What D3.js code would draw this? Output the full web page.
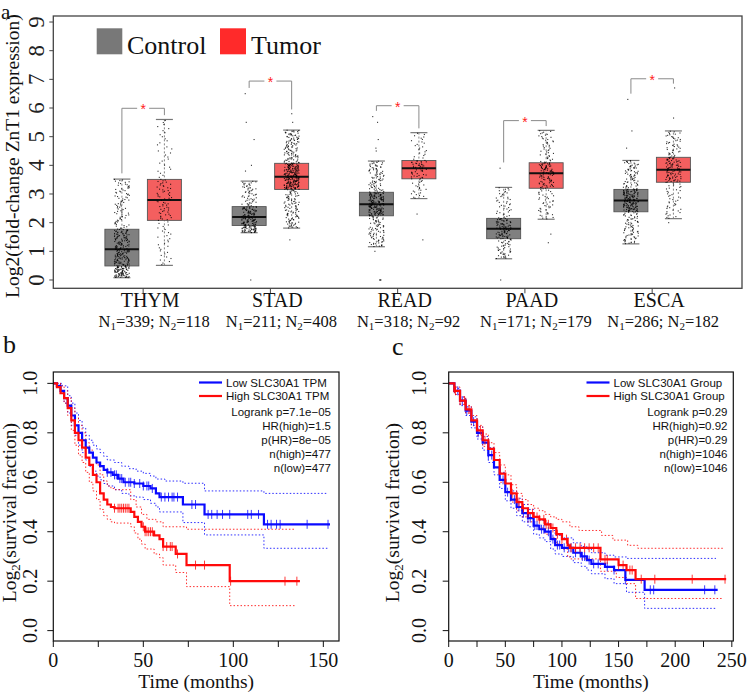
<!DOCTYPE html>
<html><head><meta charset="utf-8">
<script src="https://cdn.jsdelivr.net/npm/d3@7/dist/d3.min.js"></script>
<style>body{margin:0;background:#fff}svg{display:block}</style>
</head><body>
<svg id="fig" width="748" height="694"></svg>
<script>
// ---------------- DATA ----------------
const cancers = ["THYM","STAD","READ","PAAD","ESCA"];
const groups = ["Control","Tumor"];
const nControl = [339,211,318,171,286];
const nTumor = [118,408,92,179,182];
// [lower whisker, Q1, median, Q3, upper whisker]
const controlStats = [[0.08,0.49,1.07,1.77,3.52],[1.65,1.90,2.20,2.56,3.45],[1.16,2.24,2.64,3.06,4.15],[0.74,1.44,1.79,2.15,3.23],[1.26,2.38,2.77,3.16,4.17]];
const tumorStats   = [[0.51,2.08,2.79,3.51,5.60],[1.81,3.16,3.60,4.07,5.23],[2.84,3.53,3.90,4.17,5.14],[2.12,3.20,3.72,4.09,5.22],[2.14,3.41,3.85,4.28,5.20]];
const controlOutliers = [[],[6.5,5.5,4.9,4.0,3.8,0.0],[5.7,5.5,4.9,4.6,4.5,1.0,0.0,0.0,0.0],[3.9,0.0],[6.3,5.2,4.6]];
const tumorOutliers   = [[],[5.8,5.5,1.4],[2.3,1.4],[1.6,1.3],[6.7,5.65,2.0]];
const bracketLevel = [5.99,6.94,6.08,5.56,7.02];
const yTicksA = [0,1,2,3,4,5,6,7,8,9];

// Kaplan-Meier panel b  [time, survival] steps
const bLow  = [[0,1],[2,0.99],[4,0.97],[6,0.94],[8,0.91],[10,0.87],[12,0.83],[14,0.8],[16,0.77],[18,0.74],[20,0.72],[22,0.7],[24,0.68],[26,0.665],[28,0.65],[30,0.64],[33,0.63],[36,0.615],[39,0.6],[45,0.595],[50,0.585],[54,0.575],[57,0.555],[59,0.54],[72,0.51],[84,0.47],[117,0.43],[153.7,0.43]];
const bHigh = [[0,1],[2,0.985],[4,0.96],[6,0.94],[8,0.9],[10,0.85],[12,0.8],[14,0.77],[16,0.74],[18,0.7],[20,0.67],[22,0.63],[24,0.6],[26,0.555],[28,0.53],[30,0.51],[32,0.5],[34,0.495],[43,0.48],[45,0.46],[47,0.44],[49,0.42],[51,0.4],[56,0.385],[59,0.37],[61,0.34],[68,0.31],[74,0.265],[98,0.2],[137,0.2]];
const bLowUpper = [[0,1],[5,0.99],[8,0.95],[10,0.92],[12,0.88],[14,0.85],[16,0.82],[18,0.79],[20,0.77],[22,0.75],[24,0.735],[26,0.72],[28,0.705],[30,0.69],[34,0.68],[38,0.665],[42,0.655],[46,0.645],[50,0.636],[54,0.625],[57,0.613],[62,0.605],[72,0.596],[84,0.565],[117,0.555],[152,0.555]];
const bLowLower = [[0,1],[4,0.96],[6,0.92],[8,0.88],[10,0.83],[12,0.79],[14,0.75],[16,0.72],[18,0.69],[20,0.665],[22,0.645],[24,0.625],[26,0.61],[28,0.595],[30,0.585],[34,0.57],[38,0.555],[42,0.545],[46,0.54],[50,0.53],[54,0.515],[57,0.5],[59,0.48],[72,0.437],[84,0.387],[117,0.333],[153,0.333]];
const bHighUpper = [[0,1],[4,0.99],[6,0.97],[8,0.94],[10,0.9],[12,0.86],[14,0.83],[16,0.8],[18,0.76],[20,0.73],[22,0.7],[24,0.67],[26,0.63],[28,0.605],[30,0.585],[32,0.575],[34,0.57],[43,0.53],[46,0.5],[49,0.47],[52,0.45],[57,0.44],[61,0.42],[74,0.41],[134,0.41]];
const bHighLower = [[0,1],[4,0.97],[6,0.92],[8,0.87],[10,0.81],[12,0.75],[14,0.71],[16,0.68],[18,0.64],[20,0.6],[22,0.565],[24,0.53],[26,0.49],[28,0.465],[30,0.45],[32,0.44],[34,0.435],[43,0.42],[45,0.395],[47,0.37],[49,0.35],[51,0.33],[56,0.31],[59,0.295],[61,0.265],[68,0.235],[74,0.178],[98,0.101],[135,0.101]];
const bLowCensor  = [30,32,34,35,37,38,40,42,43,45,48,50,52,53,55,60,62,64,66,67,69,77,79,86,88,91,94,98,108,110,114,119,121,124,126,141,152.6];
const bHighCensor = [34,36,37,38,39,40,41,42,50,51,52,53,54,55,61,63,65,66,69,79,84,98.5,128.7,135.3];

// Kaplan-Meier panel c
const cLow  = [[0,1],[5,0.97],[10,0.93],[15,0.89],[20,0.845],[25,0.8],[30,0.76],[35,0.71],[40,0.66],[45,0.61],[50,0.56],[55,0.53],[60,0.5],[65,0.475],[70,0.455],[75,0.425],[80,0.41],[85,0.4],[90,0.37],[94,0.346],[100,0.335],[110,0.315],[117,0.3],[122,0.285],[126,0.27],[138,0.258],[146,0.245],[156,0.205],[173,0.165],[237.5,0.165]];
const cHigh = [[0,1],[5,0.97],[10,0.93],[15,0.895],[20,0.85],[25,0.81],[30,0.77],[35,0.735],[40,0.69],[45,0.635],[50,0.595],[55,0.555],[60,0.52],[65,0.495],[70,0.475],[75,0.46],[80,0.45],[85,0.43],[90,0.415],[95,0.39],[100,0.37],[105,0.345],[107,0.335],[134,0.288],[150,0.265],[157,0.245],[165,0.208],[245,0.208]];
const cLowUpper  = [[0,1],[5,0.98],[10,0.945],[15,0.905],[20,0.865],[25,0.825],[30,0.785],[35,0.74],[40,0.69],[45,0.64],[50,0.595],[55,0.565],[60,0.535],[65,0.51],[70,0.49],[75,0.46],[80,0.445],[85,0.435],[90,0.405],[94,0.385],[100,0.375],[110,0.355],[117,0.34],[122,0.33],[126,0.315],[138,0.305],[146,0.298],[157,0.292],[236,0.292]];
const cLowLower  = [[0,1],[5,0.955],[10,0.91],[15,0.87],[20,0.82],[25,0.775],[30,0.73],[35,0.68],[40,0.63],[45,0.575],[50,0.525],[55,0.495],[60,0.465],[65,0.44],[70,0.42],[75,0.39],[80,0.375],[85,0.36],[90,0.33],[94,0.31],[100,0.3],[110,0.275],[117,0.26],[122,0.245],[126,0.23],[138,0.21],[146,0.19],[157,0.155],[173,0.09],[236,0.09]];
const cHighUpper = [[0,1],[5,0.985],[10,0.945],[15,0.91],[20,0.87],[25,0.83],[30,0.795],[35,0.76],[40,0.72],[45,0.67],[50,0.63],[55,0.59],[60,0.555],[65,0.53],[70,0.51],[75,0.495],[80,0.485],[85,0.47],[90,0.46],[95,0.45],[100,0.44],[107,0.42],[115,0.405],[135,0.385],[145,0.366],[158,0.345],[167,0.333],[242,0.333]];
const cHighLower = [[0,1],[5,0.955],[10,0.915],[15,0.88],[20,0.83],[25,0.79],[30,0.745],[35,0.71],[40,0.66],[45,0.6],[50,0.56],[55,0.52],[60,0.485],[65,0.46],[70,0.44],[75,0.425],[80,0.415],[85,0.39],[90,0.375],[95,0.35],[100,0.33],[105,0.3],[107,0.29],[134,0.24],[148,0.215],[157,0.19],[165,0.13],[242,0.13]];
const cLowCensor  = [8,12,16,22,26,35,38,48,52,58,62,66,70,72,76,78,82,84,88,92,96,98,102,106,108,112,116,118,120,124,128,132,140,146,156,178,181,226,235];
const cHighCensor = [6,10,14,18,28,32,56,62,66,70,74,78,80,84,86,88,92,96,100,104,108,112,116,120,124,128,132,138,140,150,154,160,162,170,182,215,244];

const legendB = ["Low SLC30A1 TPM","High SLC30A1 TPM"];
const statsB = ["Logrank p=7.1e\u221205","HR(high)=1.5","p(HR)=8e\u221205","n(high)=477","n(low)=477"];
const legendC = ["Low SLC30A1 Group","High SLC30A1 Group"];
const statsC = ["Logrank p=0.29","HR(high)=0.92","p(HR)=0.29","n(high)=1046","n(low)=1046"];
const kmYTicks = [0,0.2,0.4,0.6,0.8,1.0];

// ---------------- DRAW ----------------
const svg = d3.select("#fig");
const SERIF = "'Liberation Serif','Times New Roman',serif";
const SANS = "'Liberation Sans',Arial,Helvetica,sans-serif";
const BLUE = "#0a0aff", RED = "#ff0a0a";

// ---- panel a ----
const A = {l:53.3, r:742, t:16, b:288.3};
const xa = d3.scalePoint().domain(cancers).range([A.l, A.r]).padding(0.706);
const xg = d3.scaleBand().domain(groups).range([-42.5, 42.5]).paddingInner(0.2).paddingOuter(0.1);
const ya = d3.scaleLinear().domain([-0.29, 9.21]).range([A.b, A.t]);
const bw = xg.bandwidth();

function quant(s, p){ const k = Math.min(3, Math.floor(p*4)); const f = p*4-k; return s[k]+(s[k+1]-s[k])*f; }
// deterministic horizontal jitter (display only)
function jit(i){ const v = Math.sin(i*78.233 + 12.9898)*43758.5453; return v - Math.floor(v); }

const ga = svg.append("g");
cancers.forEach((c, ci) => {
  [[controlStats, controlOutliers, nControl, "#808080", "Control"], [tumorStats, tumorOutliers, nTumor, "#f45f5f", "Tumor"]].forEach(([st, out, ns, fill, g], gi) => {
    const s = st[ci];
    const cx = xa(c) + xg(g) + bw/2;
    ga.append("line").attr("x1",cx).attr("x2",cx).attr("y1",ya(s[0])).attr("y2",ya(s[4])).attr("stroke","#666").attr("stroke-width",0.8).attr("stroke-dasharray","2,2");
    [s[0], s[4]].forEach(v => ga.append("line").attr("x1",cx-8.5).attr("x2",cx+8.5).attr("y1",ya(v)).attr("y2",ya(v)).attr("stroke","#777").attr("stroke-width",1.2));
    ga.append("rect").attr("x",cx-bw/2).attr("width",bw).attr("y",ya(s[3])).attr("height",ya(s[1])-ya(s[3])).attr("fill",fill).attr("stroke","#555").attr("stroke-width",0.9);
    ga.append("line").attr("x1",cx-bw/2).attr("x2",cx+bw/2).attr("y1",ya(s[2])).attr("y2",ya(s[2])).attr("stroke","#111").attr("stroke-width",2);
    const m = ns[ci] - out[ci].length;
    const pts = [];
    for(let i=0;i<m;i++){ pts.push([ (jit(i + 1000*ci + 500*gi)-0.5)*15, quant(s,(i+0.5)/m) ]); }
    out[ci].forEach((v,j) => pts.push([ (jit(j + 77*ci + 31*gi + 9000)-0.5)*10, v ]));
    ga.append("g").selectAll("rect").data(pts).join("rect")
      .attr("x",d=>cx+d[0]-0.55).attr("y",d=>ya(d[1])-0.55).attr("width",1.1).attr("height",1.1).attr("fill","#000").attr("opacity",0.8);
  });
  const x1 = xa(c)+xg("Control")+bw/2, x2 = xa(c)+xg("Tumor")+bw/2;
  const yb = ya(bracketLevel[ci]);
  const cmax = d3.max([controlStats[ci][4], ...controlOutliers[ci]]);
  const tmax = d3.max([tumorStats[ci][4], ...tumorOutliers[ci]]);
  const mid = (x1+x2)/2;
  const br = ga.append("g").attr("stroke","#8a8a8a").attr("stroke-width",1).attr("fill","none");
  br.append("path").attr("d",`M${x1},${ya(cmax+0.2)}V${yb}H${mid-6}`);
  br.append("path").attr("d",`M${mid+6},${yb}H${x2}V${ya(tmax+0.15)}`);
  ga.append("text").attr("x",mid).attr("y",yb+6).attr("text-anchor","middle").attr("fill","#ff2020").attr("font-family",SANS).attr("font-size",14).text("*");
});
ga.append("rect").attr("x",A.l).attr("y",A.t).attr("width",A.r-A.l).attr("height",A.b-A.t).attr("fill","none").attr("stroke","#444").attr("stroke-width",1.3);
yTicksA.forEach(v => {
  ga.append("line").attr("x1",A.l-4).attr("x2",A.l).attr("y1",ya(v)).attr("y2",ya(v)).attr("stroke","#444");
  ga.append("text").attr("transform",`translate(${A.l-9},${ya(v)}) rotate(-90)`).attr("text-anchor","middle").attr("font-family",SERIF).attr("font-size",23).attr("fill","#222").text(v);
});
cancers.forEach((c, ci) => {
  ga.append("line").attr("x1",xa(c)).attr("x2",xa(c)).attr("y1",A.b).attr("y2",A.b+5).attr("stroke","#444");
  ga.append("text").attr("x",xa(c)+7).attr("y",307).attr("text-anchor","middle").attr("font-family",SERIF).attr("font-size",20).attr("fill","#111").text(c);
  const t = ga.append("text").attr("x",xa(c)+11).attr("y",327).attr("text-anchor","middle").attr("font-family",SERIF).attr("font-size",16.5).attr("fill","#111");
  t.append("tspan").text("N");
  t.append("tspan").attr("font-size",11).attr("dy",3).text("1");
  t.append("tspan").attr("dy",-3).text("=" + nControl[ci] + "; N");
  t.append("tspan").attr("font-size",11).attr("dy",3).text("2");
  t.append("tspan").attr("dy",-3).text("=" + nTumor[ci]);
});
ga.append("text").attr("transform",`translate(19,${(A.t+A.b)/2+4}) rotate(-90)`).attr("text-anchor","middle").attr("font-family",SERIF).attr("font-size",19.5).attr("fill","#111").text("Log2(fold-change ZnT1 expression)");
ga.append("rect").attr("x",96.7).attr("y",28.3).attr("width",25.6).attr("height",26).attr("fill","#787878");
ga.append("text").attr("x",127).attr("y",54).attr("font-family",SERIF).attr("font-size",26).attr("fill","#111").text(groups[0]);
ga.append("rect").attr("x",220).attr("y",28.3).attr("width",26).attr("height",26).attr("fill","#ff2a2a");
ga.append("text").attr("x",251).attr("y",54).attr("font-family",SERIF).attr("font-size",26).attr("fill","#111").text(groups[1]);
svg.append("text").attr("x",1).attr("y",19).attr("font-family",SERIF).attr("font-size",21).attr("fill","#111").text("a");

// ---- KM panels ----
function kmPanel(P){
  const g = svg.append("g");
  const x = d3.scaleLinear().domain([0, P.xmax]).range([P.l, P.r]);
  const y = d3.scaleLinear().domain([-0.042, 1.046]).range([P.b, P.t]);
  const line = d3.line().x(d=>x(d[0])).y(d=>y(d[1])).curve(d3.curveStepAfter);
  const stepAt = (arr,t) => { let v=arr[0][1]; for(const d of arr){ if(d[0]<=t) v=d[1]; } return v; };
  P.ci.forEach(([arr,col]) => g.append("path").attr("d",line(arr)).attr("fill","none").attr("stroke",col).attr("stroke-width",1).attr("stroke-dasharray","1.5,2").attr("opacity",0.85));
  P.curves.forEach(([arr,col,cens]) => {
    g.append("path").attr("d",line(arr)).attr("fill","none").attr("stroke",col).attr("stroke-width",2.2);
    g.append("g").selectAll("line").data(cens).join("line")
      .attr("x1",d=>x(d)).attr("x2",d=>x(d)).attr("y1",d=>y(stepAt(arr,d))-4.5).attr("y2",d=>y(stepAt(arr,d))+4.5)
      .attr("stroke",col).attr("stroke-width",1).attr("opacity",0.8);
  });
  g.append("rect").attr("x",P.l).attr("y",P.t).attr("width",P.r-P.l).attr("height",P.b-P.t).attr("fill","none").attr("stroke","#111").attr("stroke-width",1.2);
  P.xticks.forEach(v => {
    g.append("line").attr("x1",x(v)).attr("x2",x(v)).attr("y1",P.b).attr("y2",P.b+6).attr("stroke","#111");
    if (v % 50 === 0) g.append("text").attr("x",x(v)).attr("y",667).attr("text-anchor","middle").attr("font-family",SERIF).attr("font-size",20).attr("fill","#111").text(v);
  });
  kmYTicks.forEach(v => {
    g.append("line").attr("x1",P.l-6).attr("x2",P.l).attr("y1",y(v)).attr("y2",y(v)).attr("stroke","#111");
    g.append("text").attr("transform",`translate(${P.ylx},${y(v)}) rotate(-90)`).attr("text-anchor","middle").attr("font-family",SERIF).attr("font-size",20).attr("fill","#111").text(d3.format(".1f")(v));
  });
  g.append("text").attr("x",(P.l+P.r)/2).attr("y",688).attr("text-anchor","middle").attr("font-family",SERIF).attr("font-size",19.5).attr("fill","#111").text("Time (months)");
  const yl = g.append("text").attr("transform",`translate(${P.ytx},${(P.t+P.b)/2+6}) rotate(-90)`).attr("text-anchor","middle").attr("font-family",SERIF).attr("font-size",19.5).attr("fill","#111");
  yl.append("tspan").text("Log");
  yl.append("tspan").attr("font-size",13).attr("dy",4).text("2");
  yl.append("tspan").attr("dy",-4).text("(survival fraction)");
  const rows = [382.5, 396, 412, 426, 440, 453.5, 467.5];
  P.legend.forEach((txt,i) => {
    const col = i===0 ? BLUE : RED;
    g.append("line").attr("x1",P.lgx).attr("x2",P.lgx+23).attr("y1",rows[i]).attr("y2",rows[i]).attr("stroke",col).attr("stroke-width",2.2);
    g.append("text").attr("x",P.lgx+27).attr("y",rows[i]+4).attr("font-family",SANS).attr("font-size",11.5).attr("fill","#111").text(txt);
  });
  P.stats.forEach((txt,i) => {
    g.append("text").attr("x",P.srx).attr("y",rows[i+2]+4).attr("text-anchor","end").attr("font-family",SANS).attr("font-size",11.5).attr("fill","#111").text(txt);
  });
}
kmPanel({l:53.3, r:339, t:372, b:641, xmax:158.7, xticks:[0,25,50,75,100,125,150], ylx:37, ytx:16,
  curves:[[bLow,BLUE,bLowCensor],[bHigh,RED,bHighCensor]],
  ci:[[bLowUpper,BLUE],[bLowLower,BLUE],[bHighUpper,RED],[bHighLower,RED]],
  legend:legendB, stats:statsB, lgx:199, srx:331});
kmPanel({l:448.7, r:733.3, t:372, b:641, xmax:251.3, xticks:[0,25,50,75,100,125,150,175,200,225,250], ylx:426, ytx:399,
  curves:[[cLow,BLUE,cLowCensor],[cHigh,RED,cHighCensor]],
  ci:[[cLowUpper,BLUE],[cLowLower,BLUE],[cHighUpper,RED],[cHighLower,RED]],
  legend:legendC, stats:statsC, lgx:586.5, srx:727.5});
svg.append("text").attr("x",3).attr("y",353).attr("font-family",SERIF).attr("font-size",26).attr("fill","#111").text("b");
svg.append("text").attr("x",392).attr("y",355).attr("font-family",SERIF).attr("font-size",26).attr("fill","#111").text("c");
</script>
</body></html>
